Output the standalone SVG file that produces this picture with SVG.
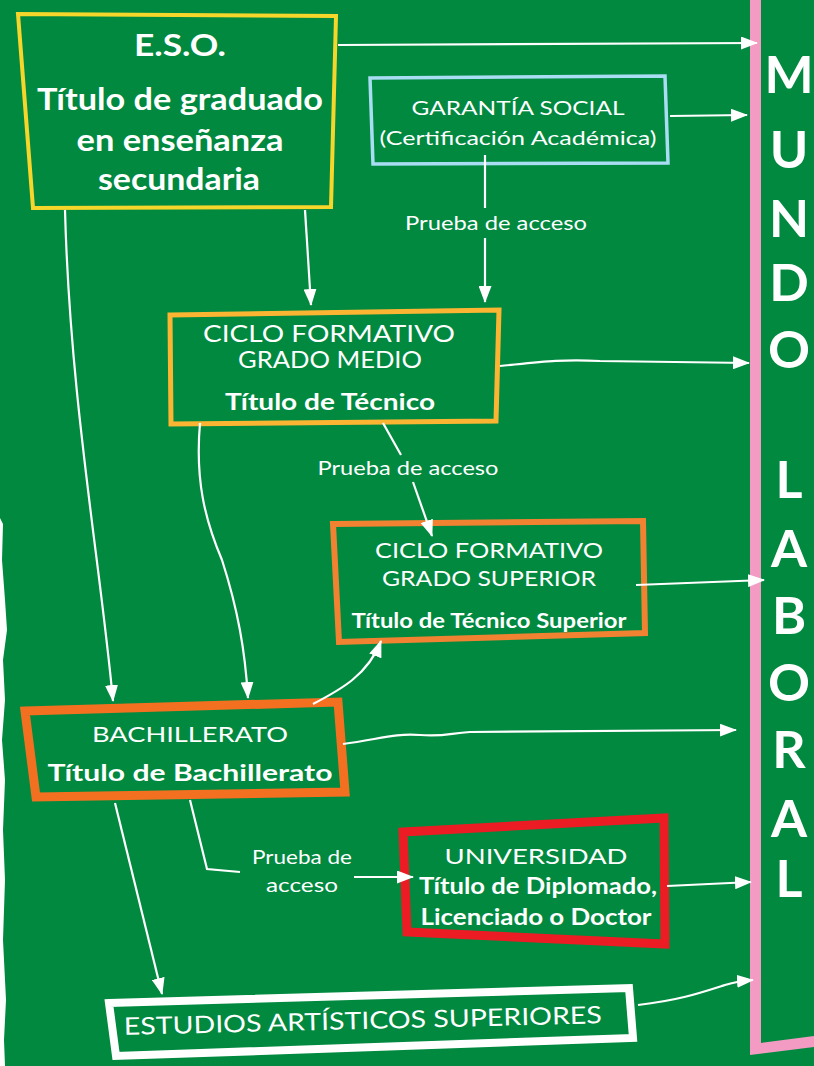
<svg xmlns="http://www.w3.org/2000/svg" width="814" height="1066" viewBox="0 0 814 1066">
<defs>
<style>
.t{font-family:Lato,"Open Sans","Liberation Sans",sans-serif;fill:#fff;text-anchor:middle}
.b{font-weight:700}
.box{fill:none;stroke-linejoin:miter}
.c{fill:none;stroke:#fff;stroke-width:2.2}
.ml{font-family:Lato,"Open Sans","Liberation Sans",sans-serif;fill:#fff;text-anchor:middle;font-size:52px;font-weight:700}
</style>
<marker id="ah" markerWidth="17" markerHeight="13" refX="16" refY="6.5" orient="auto" markerUnits="userSpaceOnUse">
<path d="M0,0 L17,6.5 L0,13 z" fill="#fff"/>
</marker>
</defs>
<rect x="0" y="0" width="814" height="1066" fill="#00893F"/>
<polygon points="0,518 3,524 2,560 5,600 7,630 3,660 5,700 2,740 5,780 3,830 5,880 3,940 6,1000 4,1040 5,1066 0,1066" fill="#fff"/>
<g id="mundo-laboral">
<polygon points="750,0 761,0 761,1043 814,1036 814,1047 750,1055" fill="#F39BC2"/>
<text class="ml" x="789" y="93">M</text>
<text class="ml" x="789" y="168">U</text>
<text class="ml" x="789" y="237">N</text>
<text class="ml" x="789" y="301">D</text>
<text class="ml" x="789" y="368">O</text>
<text class="ml" x="789" y="498">L</text>
<text class="ml" x="789" y="567">A</text>
<text class="ml" x="789" y="634">B</text>
<text class="ml" x="789" y="701">O</text>
<text class="ml" x="789" y="768">R</text>
<text class="ml" x="789" y="837">A</text>
<text class="ml" x="789" y="897">L</text>
</g>
<g id="eso">
<polygon class="box" points="18,14 336,16 331,207 33,208" stroke="#F7D62B" stroke-width="4"/>
<text class="t b" x="180" y="56" font-size="31" textLength="92" lengthAdjust="spacingAndGlyphs">E.S.O.</text>
<text class="t b" x="180" y="110" font-size="30" textLength="286" lengthAdjust="spacingAndGlyphs">Título de graduado</text>
<text class="t b" x="180" y="151" font-size="30" textLength="207" lengthAdjust="spacingAndGlyphs">en enseñanza</text>
<text class="t b" x="179" y="190" font-size="30" textLength="162" lengthAdjust="spacingAndGlyphs">secundaria</text>
</g>
<g id="garantia-social">
<polygon class="box" points="370,78 665,76 668,163 373,164" stroke="#A9DDF3" stroke-width="3.5"/>
<text class="t" x="518" y="115" font-size="20" textLength="213" lengthAdjust="spacingAndGlyphs">GARANTÍA SOCIAL</text>
<text class="t" x="518" y="145" font-size="20" textLength="277" lengthAdjust="spacingAndGlyphs">(Certificación Académica)</text>
</g>
<g id="ciclo-medio">
<polygon class="box" points="170,315 499,310 496,421 171,424" stroke="#FBB533" stroke-width="5"/>
<text class="t" x="329" y="342" font-size="23" textLength="252" lengthAdjust="spacingAndGlyphs">CICLO FORMATIVO</text>
<text class="t" x="330" y="368" font-size="23" textLength="184" lengthAdjust="spacingAndGlyphs">GRADO MEDIO</text>
<text class="t b" x="330" y="410" font-size="22" textLength="210" lengthAdjust="spacingAndGlyphs">Título de Técnico</text>
</g>
<g id="ciclo-superior">
<polygon class="box" points="333,524 643,521 645,633 339,642" stroke="#F08232" stroke-width="6"/>
<text class="t" x="489" y="558" font-size="22" textLength="228" lengthAdjust="spacingAndGlyphs">CICLO FORMATIVO</text>
<text class="t" x="489" y="586" font-size="22" textLength="214" lengthAdjust="spacingAndGlyphs">GRADO SUPERIOR</text>
<text class="t b" x="489" y="628" font-size="21" textLength="275" lengthAdjust="spacingAndGlyphs">Título de Técnico Superior</text>
</g>
<g id="bachillerato">
<polygon class="box" points="25,711 338,702 345,792 36,797" stroke="#F37021" stroke-width="9"/>
<text class="t" x="190" y="742" font-size="22" textLength="196" lengthAdjust="spacingAndGlyphs">BACHILLERATO</text>
<text class="t b" x="190" y="781" font-size="22" textLength="285" lengthAdjust="spacingAndGlyphs">Título de Bachillerato</text>
</g>
<g id="universidad">
<polygon class="box" points="403,832 664,818 665,944 407,932" stroke="#EC1C24" stroke-width="9"/>
<text class="t" x="536" y="864" font-size="22" textLength="183" lengthAdjust="spacingAndGlyphs">UNIVERSIDAD</text>
<text class="t b" x="538" y="894" font-size="22" textLength="238" lengthAdjust="spacingAndGlyphs">Título de Diplomado,</text>
<text class="t b" x="536" y="925" font-size="22" textLength="231" lengthAdjust="spacingAndGlyphs">Licenciado o Doctor</text>
</g>
<g id="estudios-artisticos">
<polygon class="box" points="109,1003 629,988 633,1038 116,1056" stroke="#fff" stroke-width="8"/>
<text class="t" x="363" y="1029" font-size="24" textLength="478" lengthAdjust="spacingAndGlyphs" transform="rotate(-1.4 363 1029)">ESTUDIOS ARTÍSTICOS SUPERIORES</text>
</g>
<g id="connectors">
<path class="c" d="M338,45 L757,43" marker-end="url(#ah)"/>
<path class="c" d="M670,116 L747,115" marker-end="url(#ah)"/>
<path class="c" d="M485,155 L485,208"/>
<path class="c" d="M485,238 L485,302" marker-end="url(#ah)"/>
<text class="t" x="496" y="230" font-size="19" textLength="182" lengthAdjust="spacingAndGlyphs">Prueba de acceso</text>
<path class="c" d="M305,210 L311,305" marker-end="url(#ah)"/>
<path class="c" d="M65,210 C70,400 100,560 113,701" marker-end="url(#ah)"/>
<path class="c" d="M500,366 C540,362 560,359 600,361 L749,363" marker-end="url(#ah)"/>
<path class="c" d="M383,423 L401,455"/>
<text class="t" x="408" y="475" font-size="19" textLength="181" lengthAdjust="spacingAndGlyphs">Prueba de acceso</text>
<path class="c" d="M413,482 L432,536" marker-end="url(#ah)"/>
<path class="c" d="M200,423 C195,480 205,520 222,560 C238,610 245,650 248,698" marker-end="url(#ah)"/>
<path class="c" d="M636,585 L764,580" marker-end="url(#ah)"/>
<path class="c" d="M313,704 C340,690 368,675 381,641" marker-end="url(#ah)"/>
<path class="c" d="M343,744 C380,739 395,733 420,735 C445,737 450,733 470,732 L736,730" marker-end="url(#ah)"/>
<path class="c" d="M115,803 L162,994" marker-end="url(#ah)"/>
<path class="c" d="M190,800 L207,869 L240,872"/>
<text class="t" x="302" y="864" font-size="19" textLength="100" lengthAdjust="spacingAndGlyphs">Prueba de</text>
<text class="t" x="302" y="892" font-size="19" textLength="72" lengthAdjust="spacingAndGlyphs">acceso</text>
<path class="c" d="M354,877 L413,877" marker-end="url(#ah)"/>
<path class="c" d="M667,886 L751,882" marker-end="url(#ah)"/>
<path class="c" d="M638,1005 C680,1000 700,993 725,985 C735,982 740,981 753,980" marker-end="url(#ah)"/>
</g>
</svg>
